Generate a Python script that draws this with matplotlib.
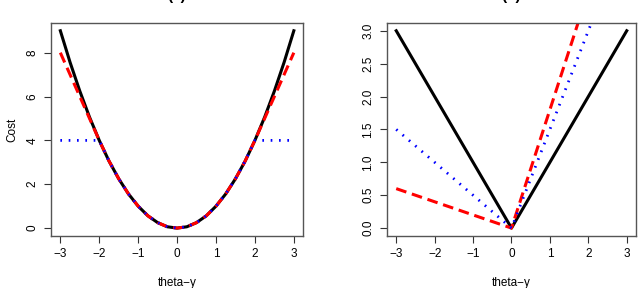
import matplotlib
matplotlib.use("Agg")
import matplotlib.pyplot as plt

plt.rcParams['font.family'] = ['Liberation Sans', 'DejaVu Sans']

# panel (a): squared, huber and truncated squared cost
theta_a = [-3, -2.75, -2.5, -2.25, -2, -1.75, -1.5, -1.25, -1, -0.75, -0.5, -0.25, 0,
           0.25, 0.5, 0.75, 1, 1.25, 1.5, 1.75, 2, 2.25, 2.5, 2.75, 3]
squared = [9, 7.56, 6.25, 5.06, 4, 3.06, 2.25, 1.56, 1, 0.56, 0.25, 0.06, 0,
           0.06, 0.25, 0.56, 1, 1.56, 2.25, 3.06, 4, 5.06, 6.25, 7.56, 9]
huber = [8, 7, 6, 5, 4, 3.06, 2.25, 1.56, 1, 0.56, 0.25, 0.06, 0,
         0.06, 0.25, 0.56, 1, 1.56, 2.25, 3.06, 4, 5, 6, 7, 8]
truncated = [4, 4, 4, 4, 4, 3.06, 2.25, 1.56, 1, 0.56, 0.25, 0.06, 0,
             0.06, 0.25, 0.56, 1, 1.56, 2.25, 3.06, 4, 4, 4, 4, 4]

# panel (b): absolute and two asymmetric (quantile) costs
theta_b = [-3, 0, 3]
absolute = [3, 0, 3]
quant_90 = [0.6, 0, 5.4]
quant_75 = [1.5, 0, 4.5]

fig = plt.figure(figsize=(6.4, 2.88), dpi=100)
ax1 = fig.add_axes([0.0797, 0.1806, 0.394, 0.740])
ax2 = fig.add_axes([0.6047, 0.1806, 0.389, 0.740])

ax1.plot(theta_a, squared, color='black', lw=2.2)
ax1.plot(theta_a, huber, color='red', lw=2.2, ls=(0, (3.5, 1.9)))
ax1.plot(theta_a, truncated, color='blue', lw=2.0, ls=(0, (0.6, 2.4)))
ax1.set_xlim(-3.24, 3.24)
ax1.set_ylim(-0.36, 9.36)
ax1.set_xticks([-3, -2, -1, 0, 1, 2, 3])
ax1.set_yticks([0, 2, 4, 6, 8])
ax1.set_ylabel('Cost', fontsize=8.5, labelpad=6)

ax2.plot(theta_b, absolute, color='black', lw=2.2)
ax2.plot(theta_b, quant_90, color='red', lw=2.2, ls=(0, (3.5, 1.9)))
ax2.plot(theta_b, quant_75, color='blue', lw=2.0, ls=(0, (0.6, 2.4)))
ax2.set_xlim(-3.24, 3.24)
ax2.set_ylim(-0.12, 3.12)
ax2.set_xticks([-3, -2, -1, 0, 1, 2, 3])
ax2.set_yticks([0, 0.5, 1.0, 1.5, 2.0, 2.5, 3.0])
ax2.set_yticklabels(['0.0', '0.5', '1.0', '1.5', '2.0', '2.5', '3.0'])

for ax in (ax1, ax2):
    for s in ax.spines.values():
        s.set_color('#555555')
        s.set_linewidth(1.0)
    ax.tick_params(length=5, width=0.8, color='#333333', labelsize=8.5, pad=4)
    for lab in ax.get_yticklabels():
        lab.set_rotation(90)
        lab.set_va('center')
    ax.set_xlabel('theta\u2212y', fontsize=8.5, labelpad=12)

# titles sit mostly above the top edge, as in the reference
fig.text(0.2766, 1.0, '(a)', ha='center', va='baseline', fontsize=11, fontweight='bold')
fig.text(0.799, 1.0, '(b)', ha='center', va='baseline', fontsize=11, fontweight='bold')

fig.savefig('out.png', dpi=100)
